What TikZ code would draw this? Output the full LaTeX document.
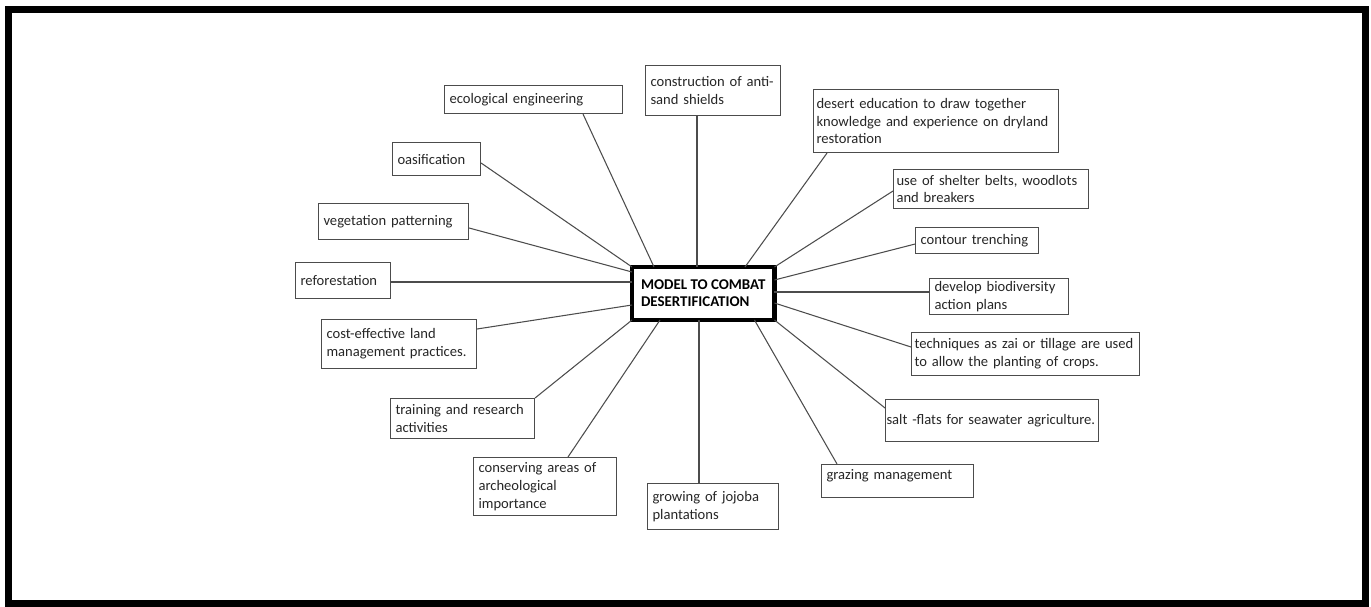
\documentclass[tikz,border=0pt]{standalone}
\usepackage{fontspec}
\setmainfont{Carlito}
\usepackage{tikz}
\usetikzlibrary{calc}
\newdimen\px
\px=0.02cm

\begin{document}
\begin{tikzpicture}[
            x=0.02cm, y=-0.02cm,
            idea/.style={draw=black!70, line width=0.6pt, anchor=north west,
                align=left, inner xsep=5\px, inner ysep=0pt, text=black!85,
                font=\fontsize{8.3}{10.2}\selectfont,
                execute at begin node={\hyphenpenalty=10000\rightskip=0pt plus 2em minus 8pt}},
            hub/.style={draw, line width=4.5\px, anchor=north west, outer sep=0pt,
                align=left, inner xsep=9\px,
                font=\bfseries\fontsize{8.5}{9.6}\selectfont},
            link/.style={draw=black!70, line width=0.6pt},
        ]
            \useasboundingbox (0,0) rectangle (1371,607);
            \draw[line width=7\px] (8,10) rectangle (1365,603);

            \node[hub, minimum width=141\px, minimum height=53\px] (hub) at (632,267)
                {MODEL TO COMBAT\\DESERTIFICATION};

            % left half
            \node[idea, text width=168\px, minimum height=28\px] (eco) at (444,85)
                {ecological engineering};
            \node[idea, text width=125\px, minimum height=50\px] (constr) at (645,65)
                {construction of anti-\\sand shields};
            \node[idea, text width=78\px, minimum height=33\px] (oasis) at (392,142)
                {oasification};
            \node[idea, text width=140\px, minimum height=36\px] (veg) at (318,203)
                {vegetation patterning};
            \node[idea, text width=85\px, minimum height=36\px] (refo) at (295,262)
                {reforestation};
            \node[idea, text width=145\px, minimum height=49\px] (cost) at (321,319)
                {cost-effective land\\management practices.};
            \node[idea, text width=134\px, minimum height=40\px] (train) at (390,398)
                {training and research\\activities};
            \node[idea, text width=133\px, minimum height=58\px] (cons) at (473,457)
                {conserving areas of\\archeological\\importance};
            \node[idea, text width=121\px, minimum height=46\px] (jojoba) at (647,483)
                {growing of jojoba\\plantations};

            % right half
            \node[idea, inner xsep=3\px, text width=239\px, minimum height=63\px] (desert) at (813,89)
                {desert education to draw together\\knowledge and experience on dryland\\restoration};
            \node[idea, inner xsep=3\px, text width=189\px, minimum height=39\px] (shelter) at (893,169)
                {use of shelter belts, woodlots\\and breakers};
            \node[idea, text width=113\px, minimum height=26\px] (contour) at (915,227)
                {contour trenching};
            \node[idea, text width=129\px, minimum height=36\px] (biodiv) at (929,278)
                {develop biodiversity\\action plans};
            \node[idea, inner xsep=3\px, text width=222\px, minimum height=43\px] (tech) at (911,332)
                {techniques as zai or tillage are used\\to allow the planting of crops.};
            \node[idea, inner xsep=1\px, text width=211\px, minimum height=42\px] (salt) at (885,399)
                {salt -flats for seawater agriculture.};
            \node[idea, text width=142\px, minimum height=33\px, text depth=14\px] (graz) at (821,464)
                {grazing management};

            \draw[link] ($(hub.north west)+(22,0)$) -- ($(eco.south west)+(139,0)$);
            \draw[link] ($(hub.north west)+(65,0)$) -- ($(constr.south west)+(52,0)$);
            \draw[link] (hub.north west) -- ($(oasis.north east)+(0,21)$);
            \draw[link] ($(hub.north west)+(0,5)$) -- ($(veg.north east)+(0,25)$);
            \draw[link] ($(hub.north west)+(0,15)$) -- ($(refo.north east)+(0,20)$);
            \draw[link] ($(hub.south west)+(0,-15)$) -- ($(cost.north east)+(0,10)$);
            \draw[link] (hub.south west) -- (train.north east);
            \draw[link] ($(hub.south west)+(28,0)$) -- ($(cons.north west)+(95,0)$);
            \draw[link] ($(hub.south west)+(67,0)$) -- ($(jojoba.north west)+(52,0)$);
            \draw[link] ($(hub.north west)+(113,0)$) -- ($(desert.south west)+(14,0)$);
            \draw[link] (hub.north east) -- ($(shelter.north west)+(0,22)$);
            \draw[link] ($(hub.north east)+(0,13)$) -- ($(contour.south west)+(0,-10)$);
            \draw[link] ($(hub.north east)+(0,25)$) -- ($(biodiv.north west)+(0,14)$);
            \draw[link] ($(hub.north east)+(0,36)$) -- ($(tech.north west)+(0,15)$);
            \draw[link] (hub.south east) -- ($(salt.north west)+(0,9)$);
            \draw[link] ($(hub.south east)+(-20,0)$) -- ($(graz.north west)+(16,0)$);
        \end{tikzpicture}
\end{document}
